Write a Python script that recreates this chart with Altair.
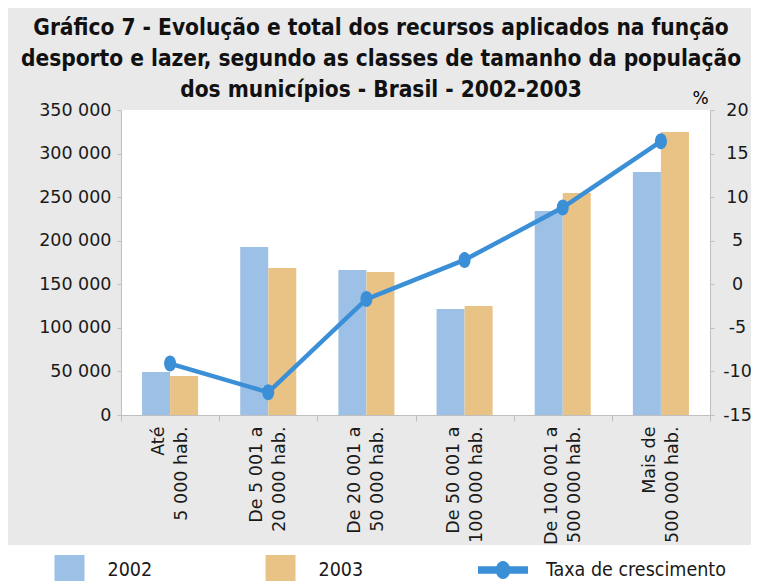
import altair as alt
import pandas as pd

categorias = ["Até\n5 000 hab.", "De 5 001  a\n20 000 hab.", "De 20 001  a\n50 000 hab.",
              "De 50 001  a\n100 000 hab.", "De 100 001  a\n500 000 hab.", "Mais de\n500 000 hab."]
anos = ["2002", "2003"]
valores_2002 = [49300, 192800, 166400, 121600, 234100, 278900]
valores_2003 = [44800, 168700, 164100, 125100, 254800, 324800]
taxa = [-9.1, -12.4, -1.7, 2.8, 8.8, 16.4]
serie_linha = "Taxa de crescimento"
ticks_esq = [0, 50000, 100000, 150000, 200000, 250000, 300000, 350000]
ticks_dir = [-15, -10, -5, 0, 5, 10, 15, 20]
titulo = ["Gráfico 7 - Evolução e total dos recursos aplicados na função",
          "desporto e lazer, segundo as classes de tamanho da população",
          "dos municípios - Brasil - 2002-2003"]

AZUL = "#9dc0e6"
BEGE = "#e9c386"
LINHA = "#3a8fd6"
CINZA = "#bfbfbf"
FONTE = "DejaVu Sans"
FONTE_C = "DejaVu Sans Condensed"

barras_df = pd.DataFrame({
    "classe": categorias * 2,
    "ano": ["2002"] * 6 + ["2003"] * 6,
    "valor": valores_2002 + valores_2003,
})
linha_df = pd.DataFrame({"classe": categorias, "taxa": taxa})
faixa_df = pd.DataFrame({"k": [0]})

x_enc = alt.X("classe:N", sort=categorias, scale=alt.Scale(paddingInner=0, paddingOuter=0),
              axis=alt.Axis(title=None, labelAngle=270, labelAlign="right", labelBaseline="middle",
                            labelExpr="split(datum.label, '\\n')", labelLineHeight=23,
                            labelFontSize=17.5, labelPadding=5, tickSize=6, tickBand="extent",
                            labelOffset=-11.5, labelLimit=300))

# white strip below the grey panel (legend area)
faixa_inf = alt.Chart(faixa_df).mark_rect(color="white").encode(
    x=alt.value(-113), x2=alt.value(640), y=alt.value(435), y2=alt.value(475))

barras = alt.Chart(barras_df).mark_bar(size=28).encode(
    x=x_enc,
    xOffset=alt.XOffset("ano:N", sort=anos, scale=alt.Scale(paddingInner=0, paddingOuter=0.75)),
    y=alt.Y("valor:Q", scale=alt.Scale(domain=[0, 350000], nice=False),
            axis=alt.Axis(title=None, values=ticks_esq, orient="left", tickSize=4, labelPadding=6,
                          labelFontSize=17.5,
                          labelExpr="replace(format(datum.value, ','), ',', ' ')")),
    color=alt.Color("ano:N", sort=anos, scale=alt.Scale(domain=anos, range=[AZUL, BEGE]),
                    legend=alt.Legend(title=None, orient="none", legendX=-66.5, legendY=445,
                                      direction="horizontal", columns=2, symbolType="square",
                                      symbolSize=900, symbolStrokeWidth=0, labelOffset=23,
                                      columnPadding=113, labelFontSize=19.5, labelFont=FONTE_C,
                                      padding=0, labelColor="#1a1a1a")),
)

PATH_LEG = ("M-1,-0.15 L-0.264,-0.15 A0.29,0.36 0 0,1 0.264,-0.15 L1,-0.15 L1,0.15 "
            "L0.264,0.15 A0.29,0.36 0 0,1 -0.264,0.15 L-1,0.15 Z")
ELIPSE = "M0,-1 A0.75,1 0 1,1 0,1 A0.75,1 0 1,1 0,-1 Z"

y_dir = alt.Y("taxa:Q", scale=alt.Scale(domain=[-15, 20], nice=False),
              axis=alt.Axis(title="%", values=ticks_dir, orient="right", tickSize=4, labelPadding=23,
                            labelAlign="center", labelFontSize=17.5, titleAngle=0, titleX=-10,
                            titleY=-12, titleAlign="center", titleBaseline="middle",
                            labelExpr="datum.value < 0 ? '-' + abs(datum.value) : '' + datum.value",
                            titleFontWeight="normal", titleFontSize=17, titleFont=FONTE))

linha = alt.Chart(linha_df).mark_line(color=LINHA, strokeWidth=4.5).encode(
    x=alt.X("classe:N", sort=categorias), y=y_dir)
pontos = alt.Chart(linha_df).mark_point(filled=True, shape=ELIPSE, size=256, opacity=1).encode(
    x=alt.X("classe:N", sort=categorias), y=y_dir,
    fill=alt.Fill("serie:N", scale=alt.Scale(domain=[serie_linha], range=[LINHA]),
                  legend=alt.Legend(title=None, orient="none", legendX=357, legendY=435,
                                    symbolType=PATH_LEG, symbolSize=2500, symbolStrokeWidth=0,
                                    labelOffset=18, labelFontSize=19.5, labelFont=FONTE_C,
                                    labelLimit=400, padding=0, labelColor="#1a1a1a")),
).transform_calculate(serie=f"'{serie_linha}'")

eixo_dir = alt.layer(linha, pontos)

chart = alt.layer(faixa_inf, barras, eixo_dir).resolve_scale(y="independent").properties(
    width=589, height=305,
    autosize=alt.AutoSizeParams(type="none"),
    padding={"left": 113, "top": 102, "right": 41, "bottom": 166},
    background="#e9e9e9",
    title=alt.TitleParams(text=titulo, fontSize=22.5, font=FONTE_C, fontWeight="bold",
                          lineHeight=31, anchor="middle", dx=-34.5, dy=12, color="#111111",
                          offset=0),
).configure_view(fill="white", strokeWidth=0).configure_axis(
    domainColor=CINZA, tickColor=CINZA, labelColor="#1a1a1a", labelFont=FONTE, grid=False, zindex=1,
)

chart.save("out.html", embed_options={"renderer": "svg", "actions": False})
